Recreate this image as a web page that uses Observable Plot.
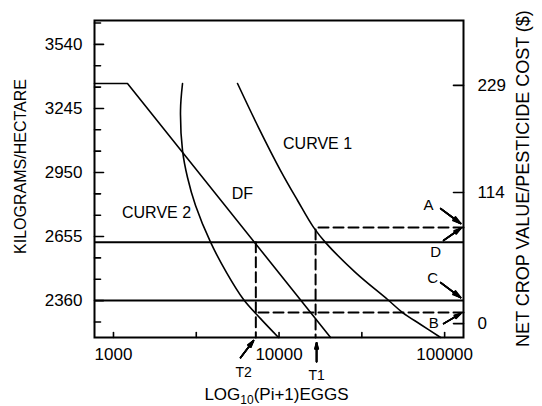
<!DOCTYPE html>
<html><head><meta charset="utf-8">
<script src="https://cdn.jsdelivr.net/npm/d3@7"></script>
<script src="https://cdn.jsdelivr.net/npm/@observablehq/plot@0.6"></script>
<style>
body{margin:0;background:#fff;}
svg{font-family:"Liberation Sans",Arial,Helvetica,sans-serif;}
</style>
</head><body><div id="chart"></div>
<script>
// ---- axis ticks ----
const leftTicks = [2360, 2655, 2950, 3245, 3540];
const leftMinorTicks = [2261.7, 2458.3, 2556.7, 2753.3, 2851.7, 3048.3, 3146.7, 3343.3, 3441.7, 3638.3];
const xTickLabels = [1000, 10000, 100000];
const xMinorTicks = [3162, 31623];
const rightTickLabels = ["0", "114", "229"];
const rightTickAt = [2254, 2858, 3351]; // kg/ha equivalents of the $ ticks

// ---- curves (eggs, kg/ha) ----
const curve1X = [5613, 7518, 10211, 12938, 16163, 19099, 28986, 45240, 55750, 71610, 94590];
const curve1Y = [3360, 3157, 2959, 2821, 2697, 2627, 2489, 2365, 2305, 2250, 2190];
const curve2X = [2612, 2540, 2612, 2800, 3130, 3856, 4818, 6103, 7730, 9930];
const curve2Y = [3360, 3236, 3051, 2927, 2798, 2629, 2489, 2365, 2277, 2190];
const dfX = [768, 1215, 20470];
const dfY = [3360, 3360, 2190];

// ---- horizontal levels ----
const levels = [2629, 2360];

// ---- dashed guides ----
const dashT1X = [130000, 16620, 16620];
const dashT1Y = [2697, 2697, 2190];
const dashT2hX = [130000, 7240];
const dashT2hY = [2305, 2305];
const dashT2vX = [7240, 7240];
const dashT2vY = [2629, 2190];

// ---- arrows ----
const arrowNames = ["A", "D", "C", "B", "T2", "T1"];
const arrowX1 = [94650, 98600, 94650, 98600, 5850, 16850];
const arrowY1 = [2784, 2637, 2443, 2254, 2097, 2078];
const arrowX2 = [124950, 124950, 124950, 124950, 7015, 16850];
const arrowY2 = [2715, 2692, 2374, 2300, 2176, 2166];

// ---- labels ----
const labelText = ["CURVE 1", "DF", "CURVE 2", "A", "D", "C", "B", "T2", "T1"];
const labelX = [17080, 6010, 1820, 80000, 88300, 84700, 85900, 6104, 16850];
const labelY = [3084, 2853, 2766, 2798, 2581, 2461, 2254, 2030, 2014];
const labelSize = [16, 16, 16, 15, 15, 15, 15, 14, 14];

const xMin = 768, xMax = 130000, yMin = 2190, yMax = 3650;

const toRows = (xs, ys, extra = {}) => xs.map((x, i) => ({x, y: ys[i], ...extra}));
const curves = [
  ...toRows(curve1X, curve1Y, {z: "c1"}),
  ...toRows(curve2X, curve2Y, {z: "c2"})
];
const dfRows = toRows(dfX, dfY);
const dashed = [
  ...toRows(dashT1X, dashT1Y, {z: "t1"}),
  ...toRows(dashT2hX, dashT2hY, {z: "t2h"}),
  ...toRows(dashT2vX, dashT2vY, {z: "t2v"})
];
const arrows = arrowNames.map((n, i) => ({n, x1: arrowX1[i], y1: arrowY1[i], x2: arrowX2[i], y2: arrowY2[i]}));
const labels = labelText.map((t, i) => ({t, x: labelX[i], y: labelY[i], s: labelSize[i]}));

const tickShape = {draw(context, l) { context.moveTo(0, 0); context.lineTo(0, -l); }};

const arrowHeads = [8, 16, 24, 32].map(a =>
  Plot.arrow(arrows, {x1: "x1", y1: "y1", x2: "x2", y2: "y2", headLength: 11, headAngle: a, strokeWidth: 1.6, stroke: "black"})
);

const plot = Plot.plot({
  width: 542, height: 406,
  marginLeft: 94, marginRight: 79, marginTop: 20, marginBottom: 69,
  style: {fontSize: "17px", fontFamily: "'Liberation Sans', Arial, Helvetica, sans-serif", background: "white", color: "black"},
  x: {type: "log", domain: [xMin, xMax], axis: null},
  y: {domain: [yMin, yMax], axis: null},
  marks: [
    Plot.ruleY(levels, {strokeWidth: 2, stroke: "black"}),
    Plot.line(curves, {x: "x", y: "y", z: "z", curve: "catmull-rom", strokeWidth: 1.6, stroke: "black"}),
    Plot.line(dfRows, {x: "x", y: "y", strokeWidth: 1.6, stroke: "black"}),
    Plot.line(dashed, {x: "x", y: "y", z: "z", strokeWidth: 2, stroke: "black", strokeDasharray: "10,5"}),
    ...arrowHeads,
    Plot.frame({strokeWidth: 2, stroke: "black"}),
    // left ticks (inward)
    Plot.vector(leftTicks, {x: () => xMin, y: d => d, length: 9, rotate: 90, anchor: "start", shape: tickShape, strokeWidth: 1.6}),
    Plot.vector(leftMinorTicks, {x: () => xMin, y: d => d, length: 6, rotate: 90, anchor: "start", shape: tickShape, strokeWidth: 1.6}),
    // right ticks (inward)
    Plot.vector(rightTickAt, {x: () => xMax, y: d => d, length: 10, rotate: -90, anchor: "start", shape: tickShape, strokeWidth: 1.6}),
    // bottom ticks (inward)
    Plot.vector(xTickLabels, {x: d => d, y: () => yMin, length: 5, anchor: "start", shape: tickShape, strokeWidth: 1.6}),
    Plot.vector(xMinorTicks, {x: d => d, y: () => yMin, length: 5, anchor: "start", shape: tickShape, strokeWidth: 1.6}),
    // tick labels
    Plot.text(leftTicks, {x: () => xMin, y: d => d, text: d => String(d), dx: -12, textAnchor: "end", fontSize: 17}),
    Plot.text(rightTickLabels, {x: () => xMax, y: (d, i) => rightTickAt[i], text: d => d, dx: 14, textAnchor: "start", fontSize: 17}),
    Plot.text(xTickLabels, {x: d => d, y: () => yMin, text: d => String(d), dy: 17, fontSize: 17}),
    // annotations
    Plot.text(labels, {x: "x", y: "y", text: "t", fontSize: d => d.s})
  ]
});

const svg = d3.select(plot);
const cx = (94 + (542 - 79)) / 2;
const cy = (20 + (406 - 69)) / 2;
const xt = svg.append("text").attr("x", cx - 2).attr("y", 400).attr("text-anchor", "middle").attr("font-size", 17).attr("fill", "black");
xt.append("tspan").text("LOG");
xt.append("tspan").attr("font-size", 12).attr("dy", 4).text("10");
xt.append("tspan").attr("dy", -4).text("(Pi+1)EGGS");

svg.append("text").attr("transform", `translate(26,${cy - 12}) rotate(-90)`).attr("text-anchor", "middle")
  .attr("font-size", 16).attr("fill", "black").text("KILOGRAMS/HECTARE");
svg.append("text").attr("transform", `translate(529,${cy}) rotate(-90)`).attr("text-anchor", "middle")
  .attr("font-size", 18).attr("fill", "black").text("NET CROP VALUE/PESTICIDE COST ($)");

document.getElementById("chart").appendChild(plot);
</script>
</body></html>
